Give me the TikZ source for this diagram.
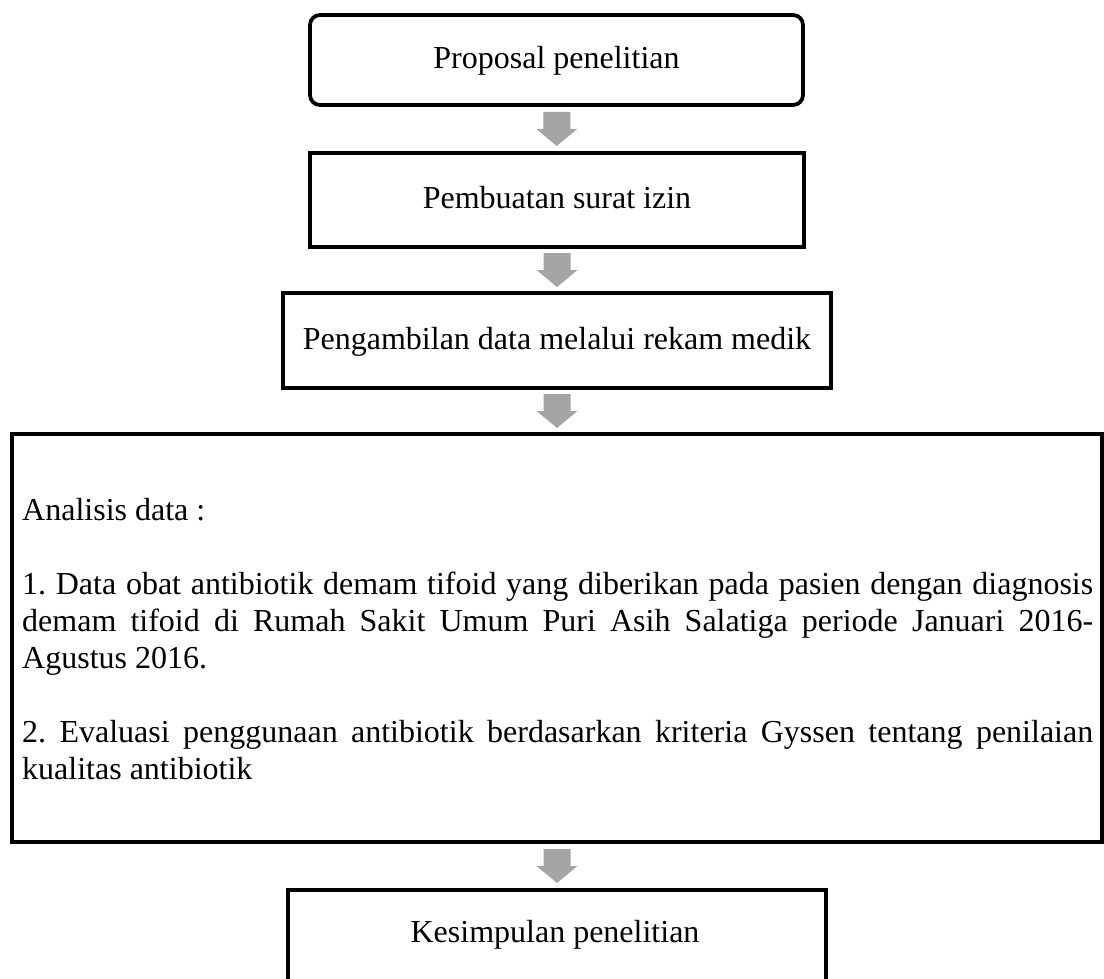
\documentclass[tikz,border=0pt]{standalone}
\usepackage{fontspec}
\setmainfont{Liberation Serif}
\usetikzlibrary{calc}
\definecolor{arrowgray}{HTML}{A5A5A5}
\tikzset{
  box/.style={draw=black, line width=3.8pt, rectangle, inner sep=0pt,
              font=\fontsize{32}{37}\selectfont, text height=23pt, text depth=5pt},
  lbl/.style={font=\fontsize{32}{37}\selectfont, inner sep=0pt},
  downarrow/.pic={\fill[arrowgray] (-13.5,-17) -- (13.5,-17) -- (13.5,0) -- (20.5,0) -- (0,17) -- (-20.5,0) -- (-13.5,0) -- cycle;}
}
\begin{document}
\begin{tikzpicture}[x=1pt,y=-1pt]
\useasboundingbox (0,0) rectangle (1104,979);
\clip (0,0) rectangle (1104,979);
\node[box, rounded corners=10pt, minimum width=493pt, minimum height=90pt] (b1) at (556.5,60) {Proposal penelitian};
\node[box, minimum width=494pt, minimum height=94pt] (b2) at (557,200) {Pembuatan surat izin};
\node[box, minimum width=548pt, minimum height=95pt] (b3) at (557,340.5) {Pengambilan data melalui rekam medik};
\node[box, minimum width=1090pt, minimum height=408pt] (b4) at (557,638) {};
\node[lbl, anchor=base west, text width=1071pt, align=justify] (t4) at (22,520)
  {\lineskiplimit=-100pt\frenchspacing
   Analisis data :\par\vspace{37pt}
   1. Data obat antibiotik demam tifoid yang diberikan pada pasien dengan diagnosis\linebreak
   demam tifoid di Rumah Sakit Umum Puri Asih Salatiga periode Januari 2016-\linebreak
   Agustus 2016.\par\vspace{37pt}
   2. Evaluasi penggunaan antibiotik berdasarkan kriteria Gyssen tentang penilaian\linebreak
   kualitas antibiotik};
\node[box, minimum width=538pt, minimum height=110pt] (b5) at (557,945) {};
\node[lbl, anchor=base] (t5) at (555,942) {Kesimpulan penelitian};
\pic at ($(b1.south)!0.5!(b2.north)$) {downarrow};
\pic at ($(b2.south)!0.5!(b3.north)$) {downarrow};
\pic at ($(b3.south)!0.5!(b4.north)$) {downarrow};
\pic at ($(b4.south)!0.5!(b5.north)$) {downarrow};
\end{tikzpicture}
\end{document}
